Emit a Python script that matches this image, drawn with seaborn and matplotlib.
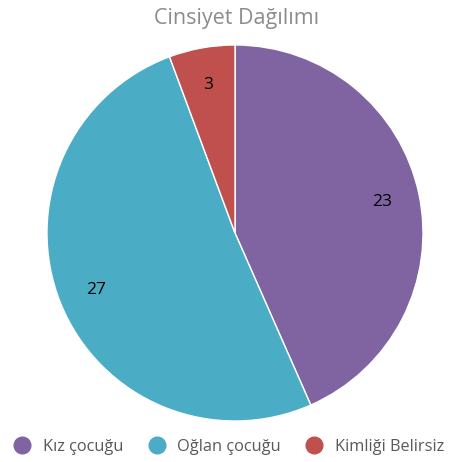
import matplotlib
matplotlib.use("Agg")
import matplotlib.pyplot as plt
from matplotlib.lines import Line2D
import seaborn as sns

# -----------------------------
# Data
# -----------------------------
categories = ["Kız çocuğu", "Oğlan çocuğu", "Kimliği Belirsiz"]
counts = [23, 27, 3]
colors = ["#8064A2", "#4BACC6", "#C0504D"]
title = "Cinsiyet Dağılımı"

# -----------------------------
# Style
# -----------------------------
sns.set_theme(style="white")
plt.rcParams["font.family"] = ["Open Sans", "DejaVu Sans"]

fig = plt.figure(figsize=(4.58, 4.62), dpi=100)
ax = fig.add_axes([0.1026, 0.0887, 0.821, 0.814])

wedges, texts, autotexts = ax.pie(
    counts,
    colors=colors,
    startangle=90,
    counterclock=False,
    autopct=lambda p: f"{round(p * sum(counts) / 100):d}",
    pctdistance=0.8,
    wedgeprops=dict(edgecolor="white", linewidth=1.0),
    textprops=dict(fontsize=12.5, color="black"),
)
ax.set_xlim(-1, 1)
ax.set_ylim(-1, 1)
ax.set_aspect("equal")

fig.text(0.517, 0.960, title, ha="center", va="center", fontsize=15.5, color="#8c8c8c")

handles = [
    Line2D([0], [0], marker="o", linestyle="", markersize=12,
           markerfacecolor=c, markeredgecolor=c)
    for c in colors
]
fig.legend(
    handles, categories,
    loc="center left", bbox_to_anchor=(0.0306, 0.032),
    ncol=3, frameon=False, fontsize=11.8,
    handlelength=1.0, handletextpad=0.75, columnspacing=1.55,
    borderpad=0, borderaxespad=0, labelcolor="#595959",
)

fig.savefig("out.png", dpi=100)
